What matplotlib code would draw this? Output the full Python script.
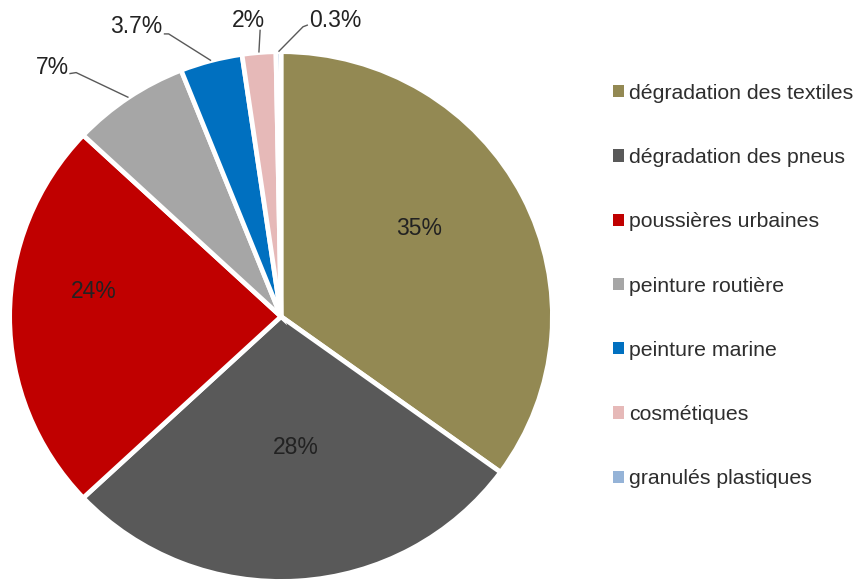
import numpy as np
import matplotlib
matplotlib.use("Agg")
import matplotlib.pyplot as plt
from matplotlib.patches import Rectangle

plt.rcParams['font.family'] = ['Liberation Sans', 'DejaVu Sans']

sources = ['dégradation des textiles', 'dégradation des pneus', 'poussières urbaines',
           'peinture routière', 'peinture marine', 'cosmétiques', 'granulés plastiques']
shares = [35, 28, 24, 7, 3.7, 2, 0.3]
colors = ['#938953', '#595959', '#C00000', '#A6A6A6', '#0070C0', '#E6B9B8', '#95B3D7']

# label placement (data units of the pie axes)
inside_pos = {0: (0.509, 0.332), 1: (0.055, -0.493), 2: (-0.689, 0.096)}
outside_pos = {
    3: ((-0.842, 0.940), [(-0.780, 0.917), (-0.755, 0.921)]),
    4: ((-0.535, 1.094), [(-0.432, 1.067), (-0.414, 1.067)]),
    5: ((-0.121, 1.116), [(-0.077, 1.083)]),
    6: ((0.201, 1.116), [(0.099, 1.101), (0.081, 1.094)]),
}


def fmt(v):
    return f"{v:g}%"


fig = plt.figure(figsize=(8.55, 5.85), dpi=100)
ax = fig.add_axes([0.0094, 0.0034, 0.6386, 0.911])

wedges, _ = ax.pie(shares, colors=colors, startangle=90, counterclock=False,
                   radius=1.0, wedgeprops=dict(edgecolor='white', linewidth=3.4))
ax.set_aspect('auto')
ax.set_xlim(-1.006, 1.006)
ax.set_ylim(-1.006, 1.006)

for i, (x, y) in inside_pos.items():
    ax.text(x, y, fmt(shares[i]), ha='center', va='center', fontsize=16.5, color='#222222')

for i, (tpos, elbow) in outside_pos.items():
    w = wedges[i]
    mid = np.deg2rad((w.theta1 + w.theta2) / 2)
    edge = (np.cos(mid), np.sin(mid))
    pts = elbow + [edge]
    ax.plot([p[0] for p in pts], [p[1] for p in pts], color='#595959', lw=1.0,
            clip_on=False, solid_capstyle='butt')
    ax.text(tpos[0], tpos[1], fmt(shares[i]), ha='center', va='center', fontsize=16.5,
            color='#222222', clip_on=False)

handles = [Rectangle((0, 0), 1, 1, facecolor=c, edgecolor='none') for c in colors]
fig.legend(handles, sources, loc='upper left', bbox_to_anchor=(0.705, 0.875),
           frameon=False, fontsize=15.3, handlelength=0.5, handleheight=0.5,
           handletextpad=0.22, labelspacing=2.13, borderpad=0, labelcolor='#2e2e2e')

fig.savefig('out.png', dpi=100)
